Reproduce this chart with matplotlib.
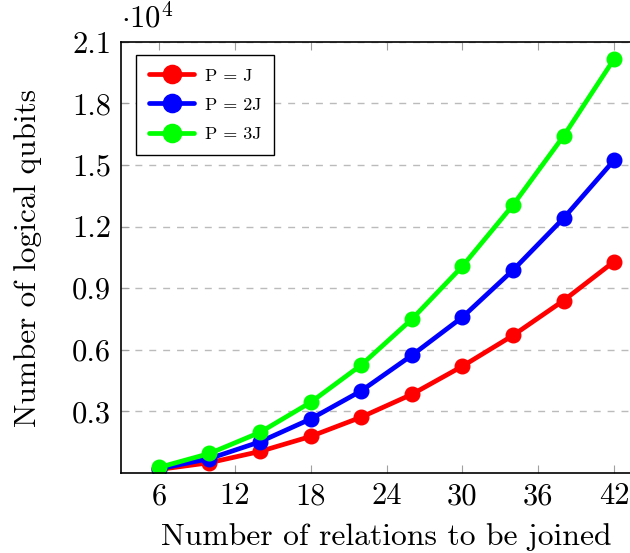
import matplotlib
matplotlib.use('Agg')
import matplotlib.pyplot as plt

plt.rcParams['font.family'] = 'cmr10'
plt.rcParams['mathtext.fontset'] = 'cm'
plt.rcParams['axes.unicode_minus'] = False

# number of relations joined
relations = [6, 10, 14, 18, 22, 26, 30, 34, 38, 42]
# logical qubits, in units of 1e4
qubits_p1 = [0.017, 0.05, 0.105, 0.178, 0.272, 0.383, 0.52, 0.67, 0.84, 1.03]
qubits_p2 = [0.02, 0.07, 0.152, 0.263, 0.40, 0.573, 0.759, 0.988, 1.241, 1.524]
qubits_p3 = [0.027, 0.095, 0.198, 0.344, 0.526, 0.749, 1.007, 1.305, 1.641, 2.017]
labels = ['P = J', 'P = 2J', 'P = 3J']
colors = ['#ff0000', '#0000ff', '#00ff00']

x_ticks = [6, 12, 18, 24, 30, 36, 42]
y_ticks = [0.3, 0.6, 0.9, 1.2, 1.5, 1.8, 2.1]

fig = plt.figure(figsize=(6.3, 5.53), dpi=100)
ax = fig.add_axes([0.192, 0.1447, 0.843, 0.7795])

for series, label, color in zip([qubits_p1, qubits_p2, qubits_p3], labels, colors):
    ax.plot(relations, series, color=color, lw=3.4, marker='o', ms=10.5,
            label=label, solid_capstyle='round')

ax.set_xlim(3, 45)
ax.set_ylim(0, 2.1)
ax.set_xticks(x_ticks)
ax.set_yticks(y_ticks)
ax.set_yticklabels([f'{v:.1f}' for v in y_ticks])
ax.tick_params(direction='in', length=6, color='#a0a0a0', labelsize=22,
               top=True, pad=7)
ax.yaxis.grid(True, ls=(0, (5, 5)), color='#bbbbbb', lw=1)
ax.set_axisbelow(True)
for sp in ax.spines.values():
    sp.set_linewidth(1.2)
ax.spines['right'].set_visible(False)

ax.set_xlabel('Number of relations to be joined', fontsize=22.8, labelpad=9)
ax.set_ylabel('Number of logical qubits', fontsize=22.5, labelpad=22)
ax.text(0.0, 1.02, r'$\cdot 10^4$', transform=ax.transAxes, fontsize=22,
        ha='left', va='bottom')

leg = ax.legend(loc='upper left', bbox_to_anchor=(0.012, 0.99), fontsize=13,
                fancybox=False, edgecolor='black', framealpha=1,
                handlelength=2.5, handletextpad=0.6, borderpad=0.7,
                labelspacing=0.75, markerscale=1.25)
leg.get_frame().set_linewidth(1.0)

fig.savefig('out.png', dpi=100)
